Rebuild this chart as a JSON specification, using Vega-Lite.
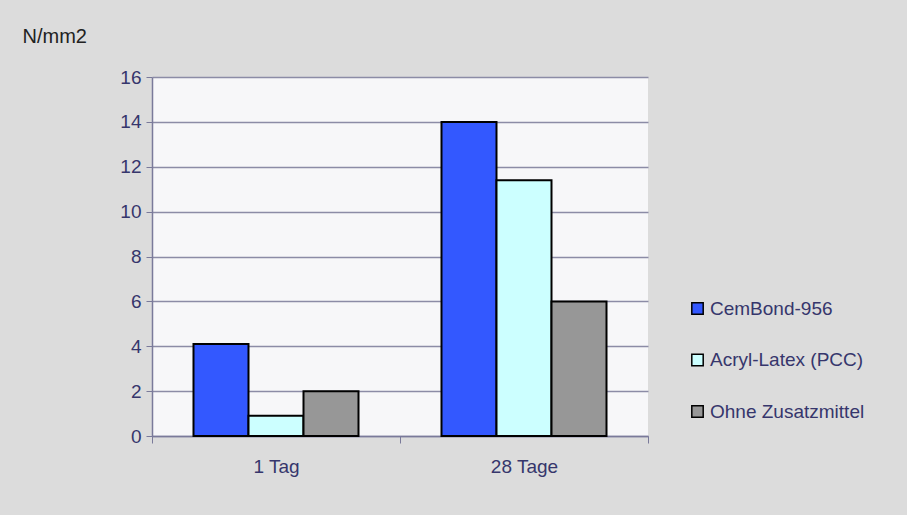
{
  "$schema": "https://vega.github.io/schema/vega-lite/v6.json",
  "width": 496,
  "height": 359,
  "autosize": {"type": "none"},
  "padding": {"left": 152, "top": 77, "right": 259, "bottom": 79},
  "background": "#dcdcdc",
  "config": {
    "font": "Liberation Sans",
    "view": {"fill": "#f7f7f9", "stroke": null}
  },
  "data": {
    "values": [
      {"Zeit": "1 Tag", "Serie": "CemBond-956", "Wert": 4.1},
      {"Zeit": "1 Tag", "Serie": "Acryl-Latex (PCC)", "Wert": 0.9},
      {"Zeit": "1 Tag", "Serie": "Ohne Zusatzmittel", "Wert": 2.0},
      {"Zeit": "28 Tage", "Serie": "CemBond-956", "Wert": 14.0},
      {"Zeit": "28 Tage", "Serie": "Acryl-Latex (PCC)", "Wert": 11.4},
      {"Zeit": "28 Tage", "Serie": "Ohne Zusatzmittel", "Wert": 6.0}
    ]
  },
  "mark": {"type": "bar", "stroke": "#000000", "strokeWidth": 2},
  "encoding": {
    "x": {
      "field": "Zeit",
      "type": "nominal",
      "sort": ["1 Tag", "28 Tage"],
      "scale": {"paddingInner": 0, "paddingOuter": 0},
      "axis": {
        "title": null,
        "labelAngle": 0,
        "labelFontSize": 19,
        "labelColor": "#36366c",
        "labelPadding": 14,
        "tickBand": "extent",
        "tickSize": 7,
        "tickColor": "#7a7a9a",
        "domainColor": "#7a7a9a",
        "domainWidth": 1.5,
        "grid": false
      }
    },
    "xOffset": {
      "field": "Serie",
      "type": "nominal",
      "sort": ["CemBond-956", "Acryl-Latex (PCC)", "Ohne Zusatzmittel"],
      "scale": {"paddingInner": 0, "paddingOuter": 0.7545}
    },
    "y": {
      "field": "Wert",
      "type": "quantitative",
      "scale": {"domain": [0, 16]},
      "axis": {
        "values": [0, 2, 4, 6, 8, 10, 12, 14, 16],
        "title": "N/mm2",
        "titleAngle": 0,
        "titleX": -130,
        "titleY": -35,
        "titleAlign": "left",
        "titleBaseline": "alphabetic",
        "titleFontSize": 20,
        "titleFontWeight": "normal",
        "titleColor": "#222222",
        "labelFontSize": 19,
        "labelColor": "#36366c",
        "labelPadding": 5,
        "tickSize": 6,
        "tickColor": "#7a7a9a",
        "domainColor": "#7a7a9a",
        "domainWidth": 1.5,
        "gridColor": "#8c8ca6",
        "gridWidth": 1.5,
        "gridOpacity": 1
      }
    },
    "color": {
      "field": "Serie",
      "type": "nominal",
      "sort": ["CemBond-956", "Acryl-Latex (PCC)", "Ohne Zusatzmittel"],
      "scale": {
        "domain": ["CemBond-956", "Acryl-Latex (PCC)", "Ohne Zusatzmittel"],
        "range": ["#3358ff", "#ccffff", "#979797"]
      },
      "legend": {
        "title": null,
        "orient": "none",
        "legendX": 536,
        "legendY": 222,
        "symbolType": "square",
        "symbolSize": 130,
        "symbolStrokeColor": "#000000",
        "symbolStrokeWidth": 1.5,
        "symbolOpacity": 1,
        "labelFontSize": 19,
        "labelColor": "#36366c",
        "labelOffset": 3,
        "rowPadding": 31.5
      }
    }
  }
}
